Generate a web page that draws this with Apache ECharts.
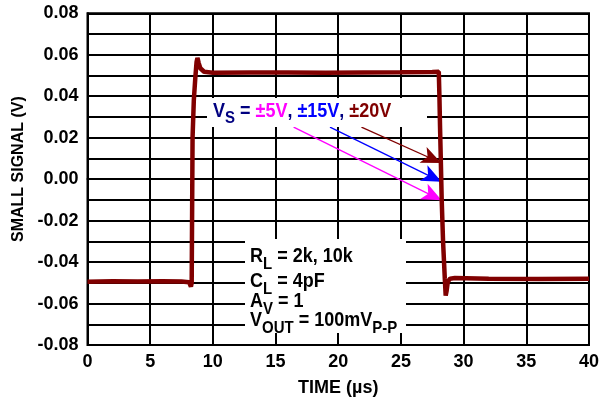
<!DOCTYPE html>
<html><head><meta charset="utf-8">
<script src="https://cdn.jsdelivr.net/npm/echarts@6/dist/echarts.min.js"></script>
<style>html,body{margin:0;padding:0;background:#fff}#c{width:602px;height:402px}</style>
</head><body><div id="c"></div>
<script>
// Waveform (time in µs, small-signal output in V)
const timeUs = [0, 2, 4, 6, 7.5, 8.1, 8.25, 8.31, 8.34, 8.38, 8.48, 8.6, 8.7, 8.77, 8.87, 9.0, 9.3, 10, 13, 16, 19, 22, 25, 27.5,
  28.02, 28.07, 28.12, 28.18, 28.25, 28.36, 28.5, 28.57, 28.64, 28.74, 28.92, 29.3, 32, 36, 40];
const signalV = [-0.0495, -0.0493, -0.0494, -0.0493, -0.0494, -0.0497, -0.0518, -0.050, -0.02, 0.02, 0.038, 0.049, 0.0565, 0.0585, 0.056, 0.0535, 0.0518, 0.0513, 0.0514, 0.0515, 0.0513, 0.0515, 0.0516, 0.0517,
  0.0518, 0.040, 0.025, 0.0095, -0.0095, -0.030, -0.048, -0.0562, -0.054, -0.0495, -0.048, -0.0477, -0.0481, -0.0482, -0.048];

// Annotation arrows (from label to falling edge), data coordinates
const arrowNames = ['±20V', '±15V', '±5V'];
const arrowColors = ['#800000', '#0000ff', '#ff00ff'];
const arrowFrom = [[21.85, 0.0251], [19.34, 0.0251], [16.44, 0.0251]];
const arrowTo = [[28.22, 0.0078], [28.24, -0.0013], [28.25, -0.0102]];

const FONT = '"Liberation Sans", Arial, sans-serif';
const chart = echarts.init(document.getElementById('c'));

const main = (c) => ({fontSize: 18, fontWeight: 'bold', fontFamily: FONT, lineHeight: 20, verticalAlign: 'top', fill: c});
const sub = (c) => ({fontSize: 15, fontWeight: 'bold', fontFamily: FONT, lineHeight: 14, padding: [8, 0, 0, 0], verticalAlign: 'top', fill: c});

function textEl(x, y, text, rich) {
  return {type: 'text', x: x, y: y, z: 101, silent: true, scaleY: 1.1,
    style: {text: text, rich: rich, verticalAlign: 'top', align: 'left', font: 'bold 18px ' + FONT}};
}
const blackRich = {m: main('#000'), s: sub('#000')};

chart.setOption({
  animation: false,
  grid: {left: 87.5, right: 9.5, top: 13.3, bottom: 55.5, show: true, borderColor: '#000', borderWidth: 2},
  xAxis: {
    type: 'value', min: 0, max: 40, interval: 5,
    name: 'TIME (µs)', nameLocation: 'middle', nameGap: 34,
    nameTextStyle: {fontSize: 18, fontWeight: 'bold', fontFamily: FONT, color: '#000'},
    axisLine: {show: true, lineStyle: {color: '#000', width: 2}},
    axisTick: {show: false},
    axisLabel: {fontSize: 18, fontWeight: 'bold', fontFamily: FONT, color: '#000', margin: 8},
    splitLine: {show: true, lineStyle: {color: '#000', width: 2}}
  },
  yAxis: {
    type: 'value', min: -0.08, max: 0.08, interval: 0.01,
    name: 'SMALL SIGNAL (V)', nameLocation: 'middle', nameGap: 61, nameRotate: 90,
    nameTextStyle: {fontSize: 16, fontWeight: 'bold', fontFamily: FONT, color: '#000', padding: [0, 0, 0, 20]},
    axisLine: {show: true, lineStyle: {color: '#000', width: 2}},
    axisTick: {show: false},
    axisLabel: {fontSize: 18, fontWeight: 'bold', fontFamily: FONT, color: '#000', margin: 9,
      formatter: function (v) {
        const k = Math.round(v * 100);
        if (k % 2 !== 0) return '';
        return Math.abs(v) < 1e-9 ? '0.00' : v.toFixed(2);
      }},
    splitLine: {show: true, lineStyle: {color: '#000', width: 2}}
  },
  series: [{
    name: 'V_S = ±5V, ±15V, ±20V',
    type: 'line',
    showSymbol: false,
    symbol: 'none',
    data: timeUs.map((t, i) => [t, signalV[i]]),
    lineStyle: {color: '#800000', width: 4.5},
    itemStyle: {color: '#800000'},
    z: 5,
    markLine: {
      silent: true,
      animation: false,
      symbol: ['none', 'arrow'],
      symbolSize: [13, 20],
      label: {show: false},
      data: arrowNames.map((n, i) => [
        {name: n, coord: arrowFrom[i], lineStyle: {color: arrowColors[i], width: 1.3, type: 'solid'}, itemStyle: {color: arrowColors[i]}},
        {coord: arrowTo[i]}
      ])
    }
  }],
  graphic: [
    {type: 'rect', z: 100, silent: true, shape: {x: 207, y: 98, width: 220, height: 29}, style: {fill: '#fff'}},
    {type: 'rect', z: 100, silent: true, shape: {x: 245, y: 239, width: 161, height: 94}, style: {fill: '#fff'}},
    textEl(213, 101.5, '{v|V}{vs|S}{n| = }{p|±5V}{n|, }{b|±15V}{n|, }{r|±20V}',
      {v: main('#000080'), vs: sub('#000080'), n: main('#000080'), p: main('#ff00ff'), b: main('#0000ff'), r: main('#800000')}),
    textEl(250, 247, '{m|R}{s|L}{m| = 2k, 10k}', blackRich),
    textEl(250, 272, '{m|C}{s|L}{m| = 4pF}', blackRich),
    textEl(250, 292, '{m|A}{s|V}{m| = 1}', blackRich),
    textEl(250, 311, '{m|V}{s|OUT}{m| = 100mV}{s|P-P}', blackRich)
  ]
});
</script></body></html>
